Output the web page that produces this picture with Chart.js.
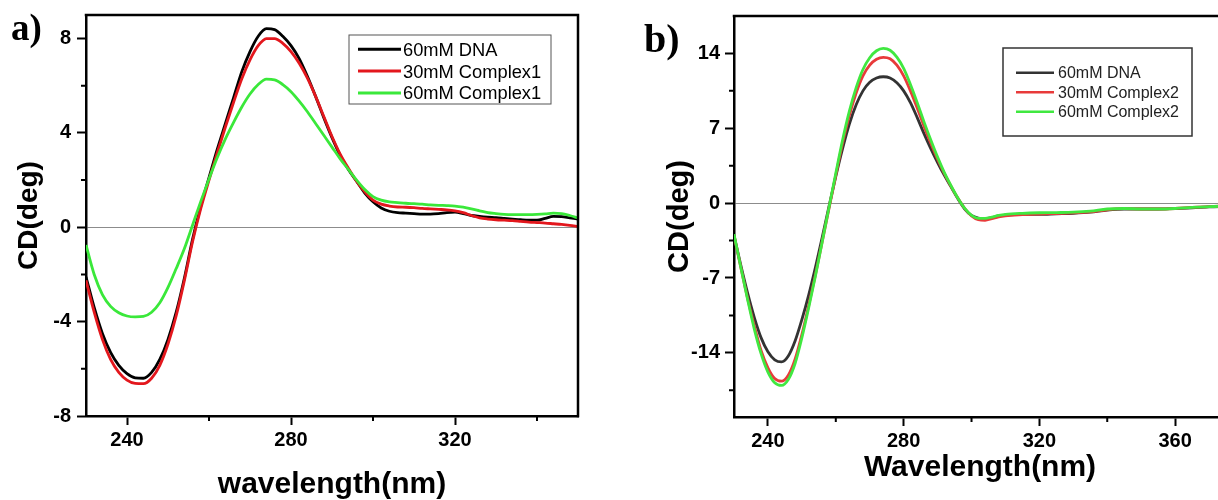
<!DOCTYPE html>
<html><head><meta charset="utf-8">
<script src="https://cdn.jsdelivr.net/npm/chart.js@4.4.1/dist/chart.umd.min.js"></script>
<style>
html,body{margin:0;padding:0;background:#fff;overflow:hidden;width:1218px;height:500px;}
#wrap{position:relative;width:1218px;height:500px;overflow:hidden;background:#fff;}
#ca{position:absolute;left:0;top:0;}
#cb{position:absolute;left:609px;top:0;}
.lab{position:absolute;font-family:"Liberation Serif","Times New Roman",serif;font-weight:bold;line-height:1;color:#000;white-space:nowrap;}
</style></head><body>
<div id="wrap">
<canvas id="ca" width="609" height="500"></canvas>
<canvas id="cb" width="660" height="500"></canvas>
<div class="lab" style="left:11px;top:9px;font-size:37px">a)</div>
<div class="lab" style="left:644px;top:19px;font-size:40px">b)</div>
</div>
<script>
// ---------- Panel a data ----------
const wlA = [230,232,234,236,238,240,242,244,246,248,250,252,254,256,258,260,262,264,266,268,270,272,274,276,278,280,282,284,286,288,290,292,294,296,298,300,302,304,306,308,310,312,314,316,318,320,322,324,326,328,330,332,334,336,338,340,342,344,346,348,350];
const dnaA = [-2.1,-3.4,-4.5,-5.3,-5.85,-6.2,-6.38,-6.4,-6.15,-5.6,-4.75,-3.6,-2.15,-0.5,0.9,2.1,3.3,4.4,5.5,6.6,7.45,8.1,8.42,8.38,8.1,7.7,7.15,6.4,5.55,4.65,3.8,3.05,2.45,1.95,1.45,1.08,0.82,0.68,0.62,0.6,0.58,0.56,0.56,0.58,0.62,0.64,0.58,0.5,0.46,0.43,0.41,0.38,0.35,0.32,0.3,0.3,0.38,0.46,0.45,0.4,0.35];
const cx1_30A = [-2.25,-3.6,-4.75,-5.6,-6.15,-6.48,-6.62,-6.63,-6.4,-5.85,-4.95,-3.75,-2.25,-0.6,0.8,2.0,3.15,4.25,5.3,6.3,7.1,7.7,8.0,8.0,7.8,7.45,6.95,6.32,5.55,4.7,3.85,3.1,2.5,1.95,1.5,1.15,0.98,0.9,0.86,0.85,0.83,0.8,0.78,0.76,0.74,0.7,0.62,0.5,0.4,0.35,0.32,0.3,0.28,0.25,0.22,0.2,0.18,0.15,0.12,0.08,0.03];
const cx1_60A = [-0.75,-2.0,-2.85,-3.35,-3.62,-3.76,-3.8,-3.78,-3.6,-3.2,-2.55,-1.75,-0.9,0.1,1.1,2.05,2.95,3.75,4.45,5.1,5.65,6.05,6.28,6.25,6.05,5.75,5.35,4.9,4.4,3.9,3.4,2.9,2.45,2.0,1.6,1.3,1.15,1.08,1.05,1.02,1.0,0.98,0.95,0.93,0.92,0.9,0.85,0.78,0.7,0.62,0.58,0.55,0.54,0.54,0.54,0.55,0.57,0.6,0.58,0.5,0.4];
const labelsA = ['60mM DNA','30mM Complex1','60mM Complex1'];
const xTicksA = [240,280,320];
const xMinorA = [260,300,340];
const yTicksA = [-8,-4,0,4,8];
const yMinorA = [-6,-2,2,6];

// ---------- Panel b data ----------
const wlB = [230,232,234,236,238,240,242,244,246,248,250,252,254,256,258,260,262,264,266,268,270,272,274,276,278,280,282,284,286,288,290,292,294,296,298,300,302,304,306,308,310,315,320,325,330,335,340,345,350,355,360,365,370,375];
const dnaB = [-3.0,-5.8,-8.4,-10.7,-12.6,-13.9,-14.65,-14.85,-14.3,-12.9,-10.9,-8.6,-6.0,-3.2,-0.3,2.5,5.1,7.4,9.2,10.5,11.3,11.7,11.82,11.7,11.25,10.5,9.4,8.0,6.5,5.1,3.8,2.6,1.5,0.4,-0.55,-1.15,-1.4,-1.45,-1.35,-1.2,-1.12,-1.05,-1.05,-1.0,-0.95,-0.85,-0.65,-0.55,-0.55,-0.55,-0.5,-0.45,-0.35,-0.3];
const cx2_30B = [-3.0,-6.0,-8.9,-11.5,-13.8,-15.4,-16.4,-16.65,-16.1,-14.6,-12.3,-9.6,-6.7,-3.6,-0.5,2.6,5.6,8.2,10.3,11.9,12.9,13.45,13.63,13.5,12.9,11.9,10.5,8.9,7.2,5.6,4.1,2.75,1.55,0.45,-0.5,-1.2,-1.55,-1.6,-1.45,-1.28,-1.18,-1.08,-1.02,-0.97,-0.92,-0.82,-0.62,-0.52,-0.55,-0.55,-0.5,-0.4,-0.32,-0.28];
const cx2_60B = [-2.9,-6.0,-9.0,-11.8,-14.1,-15.8,-16.8,-17.05,-16.5,-15.0,-12.6,-9.8,-6.8,-3.6,-0.4,2.8,5.9,8.6,10.8,12.5,13.6,14.25,14.47,14.3,13.65,12.6,11.1,9.4,7.6,5.9,4.3,2.85,1.6,0.45,-0.5,-1.15,-1.42,-1.42,-1.3,-1.15,-1.05,-0.95,-0.9,-0.88,-0.85,-0.75,-0.55,-0.5,-0.55,-0.55,-0.5,-0.4,-0.32,-0.28];
const labelsB = ['60mM DNA','30mM Complex2','60mM Complex2'];
const xTicksB = [240,280,320,360];
const xMinorB = [260,300,340];
const yTicksB = [-14,-7,0,7,14];
const yMinorB = [-17.5,-10.5,-3.5,3.5,10.5];

const SANS = '"Liberation Sans", Arial, Helvetica, sans-serif';
const pts = (xs, ys) => xs.map((x, i) => ({x, y: ys[i]}));

const framePlugin = {
  id: 'frame',
  afterDraw(chart, args, o) {
    const {ctx, chartArea: a, scales} = chart;
    ctx.save();
    ctx.strokeStyle = '#000';
    ctx.lineWidth = o.frameWidth;
    ctx.beginPath();
    ctx.moveTo(a.left - o.frameWidth / 2, a.top);
    ctx.lineTo(a.right, a.top);
    ctx.lineTo(a.right, a.bottom + o.frameWidth / 2);
    ctx.stroke();
    ctx.lineWidth = 2;
    ctx.beginPath();
    o.xMinor.forEach(v => { const p = scales.x.getPixelForValue(v); ctx.moveTo(p, a.bottom); ctx.lineTo(p, a.bottom + o.minorLen); });
    o.yMinor.forEach(v => { const p = scales.y.getPixelForValue(v); ctx.moveTo(a.left, p); ctx.lineTo(a.left - o.minorLen, p); });
    ctx.stroke();
    const L = o.legend;
    ctx.lineWidth = L.borderWidth;
    ctx.strokeStyle = L.borderColor;
    ctx.strokeRect(L.x, L.y, L.w, L.h);
    ctx.font = L.fontSize + 'px ' + SANS;
    ctx.textBaseline = 'alphabetic';
    ctx.textAlign = 'left';
    chart.data.datasets.forEach((ds, i) => {
      const cy = L.row0 + i * L.rowGap;
      ctx.strokeStyle = ds.borderColor;
      ctx.lineWidth = L.sampleWidth;
      ctx.beginPath();
      ctx.moveTo(L.s1, cy); ctx.lineTo(L.s2, cy);
      ctx.stroke();
      ctx.fillStyle = L.textColor;
      ctx.fillText(ds.label, L.tx, cy + 0.358 * L.fontSize);
    });
    ctx.restore();
  }
};

function makeChart(canvas, cfg) {
  const zeroGrid = c => (c.tick && c.tick.value === 0) ? '#8c8c8c' : 'rgba(0,0,0,0)';
  return new Chart(canvas, {
    type: 'line',
    data: {
      datasets: cfg.series.map((s, i) => ({
        label: cfg.labels[i],
        data: pts(cfg.wl, s),
        borderColor: cfg.colors[i],
        borderWidth: cfg.lineWidth,
        pointRadius: 0,
        fill: false,
        tension: 0.4,
        cubicInterpolationMode: 'monotone',
        order: cfg.order[i]
      }))
    },
    options: {
      responsive: false,
      animation: false,
      devicePixelRatio: 1,
      layout: {padding: cfg.padding},
      plugins: {
        legend: {display: false},
        tooltip: {enabled: false},
        frame: cfg.frame
      },
      scales: {
        x: {
          type: 'linear',
          min: cfg.xMin, max: cfg.xMax,
          afterBuildTicks: s => { s.ticks = cfg.xTicks.map(v => ({value: v})); },
          afterFit: s => { s.height = cfg.xHeight; s.paddingLeft = 0; s.paddingRight = 0; },
          grid: {drawOnChartArea: false, drawTicks: true, tickLength: 9, tickWidth: 2, tickColor: '#000', color: '#000'},
          border: {display: true, color: '#000', width: cfg.frame.frameWidth},
          ticks: {padding: 3, color: '#000', maxRotation: 0, autoSkip: false, font: {family: SANS, size: cfg.tickSize, weight: 'bold'}},
          title: {display: true, text: cfg.xTitle, color: '#000', font: {family: SANS, size: cfg.titleSize, weight: 'bold', lineHeight: 1}, padding: {top: 0, bottom: cfg.xTitlePad}}
        },
        y: {
          type: 'linear',
          min: cfg.yMin, max: cfg.yMax,
          afterBuildTicks: s => { s.ticks = cfg.yTicks.map(v => ({value: v})); },
          afterFit: s => { s.width = cfg.yWidth; s.paddingTop = 0; s.paddingBottom = 0; },
          grid: {drawOnChartArea: true, drawTicks: true, tickLength: 9, tickWidth: 2, tickColor: '#000', color: zeroGrid, lineWidth: 1},
          border: {display: true, color: '#000', width: cfg.frame.frameWidth},
          ticks: {padding: cfg.yTickPad, color: '#000', font: {family: SANS, size: cfg.tickSize, weight: 'bold'}},
          title: {display: true, text: 'CD(deg)', color: '#000', font: {family: SANS, size: cfg.yTitleSize, weight: 'bold', lineHeight: 1}, padding: {top: cfg.yTitlePad, bottom: 0}}
        }
      }
    },
    plugins: [framePlugin]
  });
}

makeChart(document.getElementById('ca'), {
  wl: wlA, series: [dnaA, cx1_30A, cx1_60A], labels: labelsA,
  colors: ['#000000', '#e3171d', '#3ae83a'], order: [2, 1, 0], lineWidth: 2.8,
  padding: {left: 0, top: 15, right: 31, bottom: 0},
  xMin: 230, xMax: 350, yMin: -8, yMax: 9,
  xTicks: xTicksA, yTicks: yTicksA,
  xHeight: 84, yWidth: 86, yTickPad: 6,
  tickSize: 20, titleSize: 30, yTitleSize: 28, xTitlePad: 0, yTitlePad: 15,
  xTitle: 'wavelength(nm)',
  frame: {
    frameWidth: 2.5, xMinor: xMinorA, yMinor: yMinorA, minorLen: 5,
    legend: {x: 349, y: 35, w: 202, h: 69, borderWidth: 1, borderColor: '#555',
      s1: 358, s2: 401, tx: 403, row0: 49.3, rowGap: 21.8, fontSize: 18.3, sampleWidth: 3, textColor: '#000'}
  }
});

makeChart(document.getElementById('cb'), {
  wl: wlB, series: [dnaB, cx2_30B, cx2_60B], labels: labelsB,
  colors: ['#333333', '#e83a3a', '#40e840'], order: [2, 1, 0], lineWidth: 2.8,
  padding: {left: 0, top: 16, right: 43, bottom: 0},
  xMin: 230, xMax: 375, yMin: -20, yMax: 17.5,
  xTicks: xTicksB, yTicks: yTicksB,
  xHeight: 83, yWidth: 125, yTickPad: 5,
  tickSize: 20, titleSize: 30, yTitleSize: 29, xTitlePad: 17.5, yTitlePad: 56.5,
  xTitle: 'Wavelength(nm)',
  frame: {
    frameWidth: 2.5, xMinor: xMinorB, yMinor: yMinorB, minorLen: 5,
    legend: {x: 394, y: 48, w: 189, h: 88, borderWidth: 1.5, borderColor: '#333',
      s1: 407, s2: 445, tx: 449, row0: 72.7, rowGap: 19.5, fontSize: 16, sampleWidth: 2.5, textColor: '#222'}
  }
});
</script>
</body></html>
